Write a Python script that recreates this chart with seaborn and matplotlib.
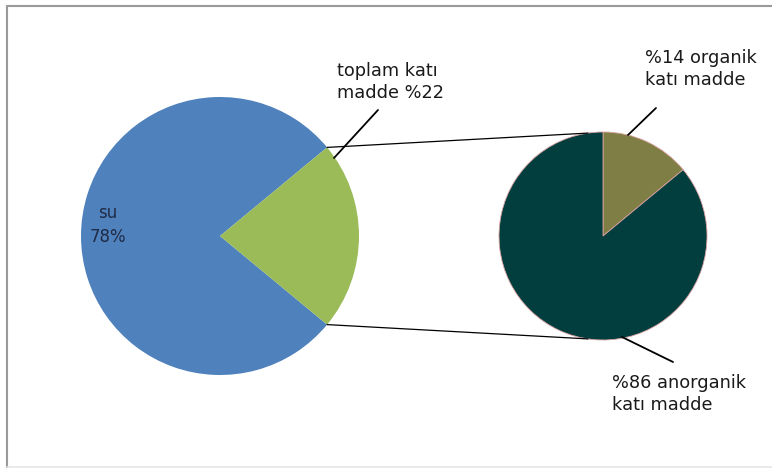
import numpy as np
import matplotlib
matplotlib.use("Agg")
import matplotlib.pyplot as plt
import seaborn as sns
from matplotlib.patches import Rectangle
from matplotlib.lines import Line2D

# ---- data ----
main_labels = ["su", "toplam katı madde"]
main_values = [78, 22]
sub_labels = ["organik katı madde", "anorganik katı madde"]
sub_values = [14, 86]
main_colors = ["#4F81BD", "#9BBB59"]
sub_colors = ["#7F7F45", "#033E3F"]

sns.set_theme(style="white")
plt.rcParams['font.family'] = ['DejaVu Sans']

W, H = 772, 468
fig = plt.figure(figsize=(W / 100, H / 100), dpi=100)
ax = fig.add_axes([0, 0, 1, 1])

def py(y):
    return H - y

# main pie
c1 = (220, py(236)); r1 = 139
half = main_values[1] / sum(main_values) * 360 / 2
ax.pie(main_values, colors=main_colors, center=c1, radius=r1,
       startangle=half, counterclock=True,
       wedgeprops=dict(linewidth=0))

# sub pie
c2 = (603, py(236)); r2 = 104
ax.pie(sub_values, colors=sub_colors, center=c2, radius=r2,
       startangle=90, counterclock=False,
       wedgeprops=dict(linewidth=0.6, edgecolor="#D9A0A0"))

ax.set_xlim(0, W)
ax.set_ylim(0, H)
ax.set_aspect('equal')
ax.axis('off')

# connector lines
a = np.deg2rad(half)
p_top = (c1[0] + r1 * np.cos(a), c1[1] + r1 * np.sin(a))
p_bot = (c1[0] + r1 * np.cos(a), c1[1] - r1 * np.sin(a))
b = np.deg2rad(98.3)
q_top = (c2[0] + r2 * np.cos(b), c2[1] + r2 * np.sin(b))
q_bot = (c2[0] + r2 * np.cos(b), c2[1] - r2 * np.sin(b))
ax.plot([p_top[0], q_top[0]], [p_top[1], q_top[1]], color="black", lw=0.9)
ax.plot([p_bot[0], q_bot[0]], [p_bot[1], q_bot[1]], color="black", lw=0.9)

txt = dict(fontsize=12.8, color="#1A1A1A", linespacing=1.3)
# labels
ax.text(108, py(225), f"{main_labels[0]}\n{main_values[0]}%", ha="center", va="center",
        multialignment="center", fontsize=12, color="#1F2A44", linespacing=1.45)
ax.text(337, py(82), f"toplam katı\nmadde %{main_values[1]}", ha="left", va="center", **txt)
ax.plot([378, 334], [py(110), py(158)], color="black", lw=1.3)

ax.text(645, py(69), f"%{sub_values[0]} organik\nkatı madde", ha="left", va="center", **txt)
ax.plot([656, 628], [py(108), py(135)], color="black", lw=1.3)

ax.text(612, py(394), f"%{sub_values[1]} anorganik\nkatı madde", ha="left", va="center", **txt)
ax.plot([622, 673], [py(337), py(362)], color="black", lw=1.3)

# outer border (left + top darker, bottom faint)
fig.lines.append(Line2D([7 / W, 7 / W], [0, 1 - 6 / H], transform=fig.transFigure,
                        color="#9A9A9A", lw=1.5))
fig.lines.append(Line2D([7 / W, 1], [1 - 6 / H, 1 - 6 / H], transform=fig.transFigure,
                        color="#9A9A9A", lw=1.5))
fig.lines.append(Line2D([7 / W, 1], [1 / H, 1 / H], transform=fig.transFigure,
                        color="#E6E6E6", lw=1.2))

fig.savefig("out.png", dpi=100)
